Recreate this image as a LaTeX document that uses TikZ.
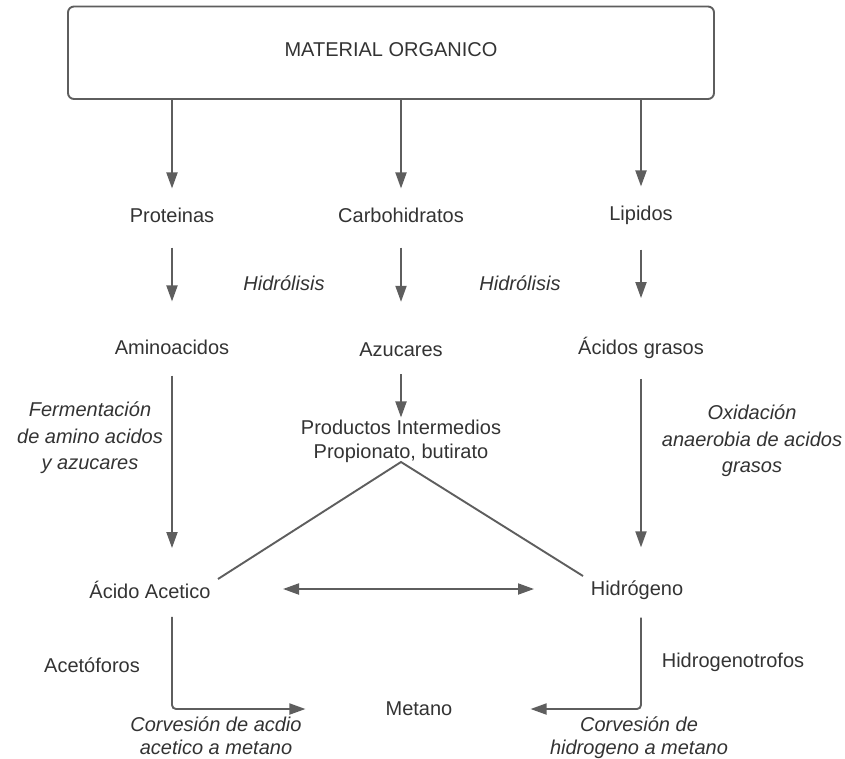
\documentclass[tikz,border=0pt]{standalone}
\usepackage{fontspec}
\setmainfont{Liberation Sans}
\usetikzlibrary{arrows.meta,calc}
\definecolor{linegray}{HTML}{5E5E5E}
\definecolor{textgray}{HTML}{333333}
\begin{document}
\begin{tikzpicture}[x=1pt,y=-1pt,
  lbl/.style={font=\fontsize{20}{24}\selectfont, text=textgray, inner sep=0pt, align=center},
  ital/.style={lbl, font=\fontsize{20}{26.5}\selectfont\itshape},
  conv/.style={lbl, font=\fontsize{20}{22.5}\selectfont\itshape, anchor=base},
  conn/.style={draw=linegray, line width=1.9pt},
  tip/.style={Triangle[length=16pt,width=11pt]},
  arr/.style={conn, -{Triangle[length=16pt,width=11pt]}},
  darr/.style={conn, {Triangle[length=16pt,width=11pt]}-{Triangle[length=16pt,width=11pt]}}
]
\useasboundingbox (0,0) rectangle (845,759);

% source box
\node[conn, rounded corners=6pt, minimum width=646pt, minimum height=92.5pt,
      lbl, inner sep=0pt] (mat) at (391,52.75) {};
\node[lbl] (mattxt) at (391,50) {MATERIAL ORGANICO};

% first level: polymers
\node[lbl] (prot) at (172,215) {Proteinas};
\node[lbl] (carb) at (401,215) {Carbohidratos};
\node[lbl] (lip)  at (641,215) {Lipidos};

% second level: monomers
\node[lbl] (amino) at (172,347) {Aminoacidos};
\node[lbl] (azuc)  at (401,350) {Azucares};
\node[lbl] (acgr)  at (641,348) {Ácidos grasos};

% intermediate products
\node[lbl] (prodint) at (401,441) {Productos Intermedios\\Propionato, butirato};

% acetic acid and hydrogen
\node[lbl] (acet) at (150,590) {Ácido Acetico};
\node[lbl] (hidr) at (637,590) {Hidrógeno};

% methane
\node[lbl] (met) at (419,709) {Metano};

% process labels
\node[ital] (hid1) at (284,283) {Hidrólisis};
\node[ital] (hid2) at (520,283) {Hidrólisis};
\node[ital] (ferm) at (90,438) {Fermentación\\de amino acidos\\y azucares};
\node[ital] (oxid) at (752,441) {Oxidación\\anaerobia de acidos\\grasos};
\node[lbl] (acetof) at (92,665) {Acetóforos};
\node[lbl] (hidrot) at (733,662) {Hidrogenotrofos};
\node[conv] (conv1) at (216,754) {Corvesión de acdio\\acetico a metano};
\node[conv] (conv2) at (639,754) {Corvesión de\\hidrogeno a metano};

% connector end points
\coordinate (apex) at (401,462);
\coordinate (acetend) at (218,579);
\coordinate (hidrend) at (583,576);
\coordinate (dl) at (283,589);
\coordinate (dr) at (534,589);

% material -> polymers
\path (mat.south -| prot) coordinate (m1) (mat.south -| carb) coordinate (m2) (mat.south -| lip) coordinate (m3);
\draw[arr, shorten >=19pt] (m1) -- (prot);
\draw[arr, shorten >=19pt] (m2) -- (carb);
\draw[arr, shorten >=19pt] (m3) -- (lip);

% hydrolysis
\draw[arr, shorten <=25pt, shorten >=38pt] (prot) -- (amino);
\draw[arr, shorten <=25pt, shorten >=41pt] (carb) -- (azuc);
\draw[arr, shorten <=25pt, shorten >=39pt] (lip) -- (acgr);

% sugars -> intermediates
\draw[arr, shorten <=17pt, shorten >=2pt] (azuc) -- (prodint.north);

% intermediates branch to acetic acid and hydrogen
\draw[conn] (prodint.south) -- (apex);
\draw[conn, line join=round] (acetend) -- (apex) -- (hidrend);

% fermentation and oxidation
\draw[arr, shorten <=21pt, shorten >=33pt] (amino) -- (acet.north -| amino);
\draw[arr, shorten <=20pt, shorten >=33pt] (acgr) -- (hidr.north -| acgr);

% exchange between acetic acid and hydrogen
\draw[darr] (dl) -- (dr);

% methanogenesis
\draw[arr, rounded corners=4pt, shorten <=18pt] (acet.south -| amino) |- ($(met.west)+(-80,0)$);
\draw[arr, rounded corners=4pt, shorten <=18pt] (hidr.south -| acgr) |- ($(met.east)+(78,0)$);
\end{tikzpicture}
\end{document}
